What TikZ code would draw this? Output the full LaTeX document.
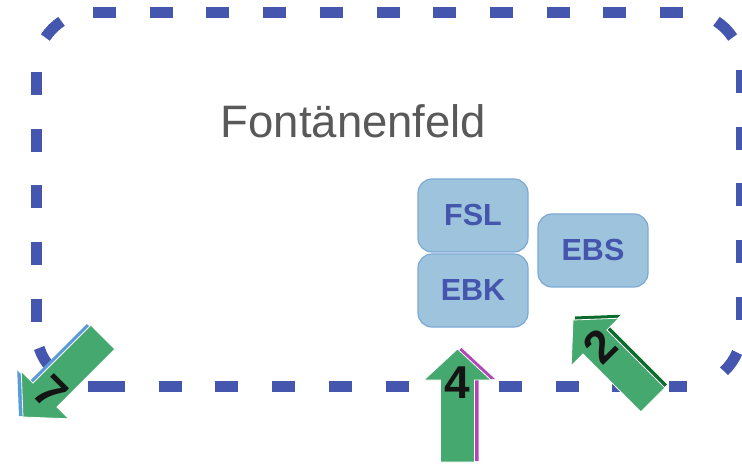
\documentclass[tikz,border=0pt]{standalone}
\usepackage{fontspec}
\setmainfont{Liberation Sans}
\definecolor{dashblue}{HTML}{4456AE}
\definecolor{boxfill}{HTML}{9EC3DC}
\definecolor{boxedge}{HTML}{7DA9D4}
\definecolor{txtblue}{HTML}{4355AD}
\definecolor{arrowgreen}{HTML}{45A86F}
\definecolor{sidepurple}{HTML}{B146B8}
\definecolor{sideblue}{HTML}{5B9BD5}
\definecolor{sidegreen}{HTML}{0B6B2A}
\definecolor{titlegray}{HTML}{595959}
\newcommand\myarrowshape{(0,0) -- (33.5,31) -- (17,31) -- (17,113) -- (-17,113) -- (-17,31) -- (-33.5,31) -- cycle}
\newcommand\myblockarrow[6]{%
  \fill[#6, shift={(#1+#4,#2+#5)}, rotate=#3] \myarrowshape;
  \filldraw[fill=arrowgreen, draw=white, line width=0.8pt, shift={(#1,#2)}, rotate=#3] \myarrowshape;
}
\begin{document}
\begin{tikzpicture}[x=1pt,y=1pt,yscale=-1,
  frame/.style={draw=dashblue, line width=11pt},
  dashes/.style={frame, dash pattern=on 23pt off 33.7pt},
  box/.style={draw=boxedge, fill=boxfill, line width=1.2pt, rounded corners=14pt,
    minimum width=110pt, minimum height=73pt, inner sep=0pt, text=txtblue,
    font=\bfseries\fontsize{30.5}{34}\selectfont},
  num/.style={inner sep=0pt, text=black!92, font=\bfseries\fontsize{46}{50}\selectfont}]
\useasboundingbox (0,0) rectangle (742,465);

% dashed rounded frame
\draw[dashes] (93,12.5) -- (686.5,12.5);
\draw[dashes] (741.5,70) -- (741.5,331);
\draw[dashes] (36.5,72) -- (36.5,331);
\draw[dashes] (102,386) -- (686.5,386);
\draw[frame] (88,386) -- (102,386);
\draw[frame] (91.5,67.5) ++(213:55) arc[start angle=213, end angle=237, radius=55];
\draw[frame] (686.5,67.5) ++(303:55) arc[start angle=303, end angle=327, radius=55];
\draw[frame] (686.5,331) ++(23:55) arc[start angle=23, end angle=47, radius=55];
\draw[frame] (91.5,331) ++(138:55) arc[start angle=138, end angle=162, radius=55];

% title
\node[anchor=base, inner sep=0pt, text=titlegray, font=\fontsize{45.5}{50}\selectfont]
  (title) at (353.5,138) {Fontänenfeld};

% boxes
\node[box] (fsl) at (473,215.5) {FSL};
\node[box] (ebk) at (473,290.5) {EBK};
\node[box] (ebs) at (593,250.5) {EBS};

% block arrows
\myblockarrow{457.5}{349}{0}{4}{-1}{sidepurple}
\myblockarrow{573}{320}{-45}{2}{-3.5}{sidegreen}
\myblockarrow{23}{417}{-135}{-4}{-1}{sideblue}

\node[num] (n4) at (457,383) {4};
\node[num, rotate=45] (n2) at (600,346) {2};
\node[num, rotate=-45] (n7) at (51,392) {7};
\end{tikzpicture}
\end{document}
